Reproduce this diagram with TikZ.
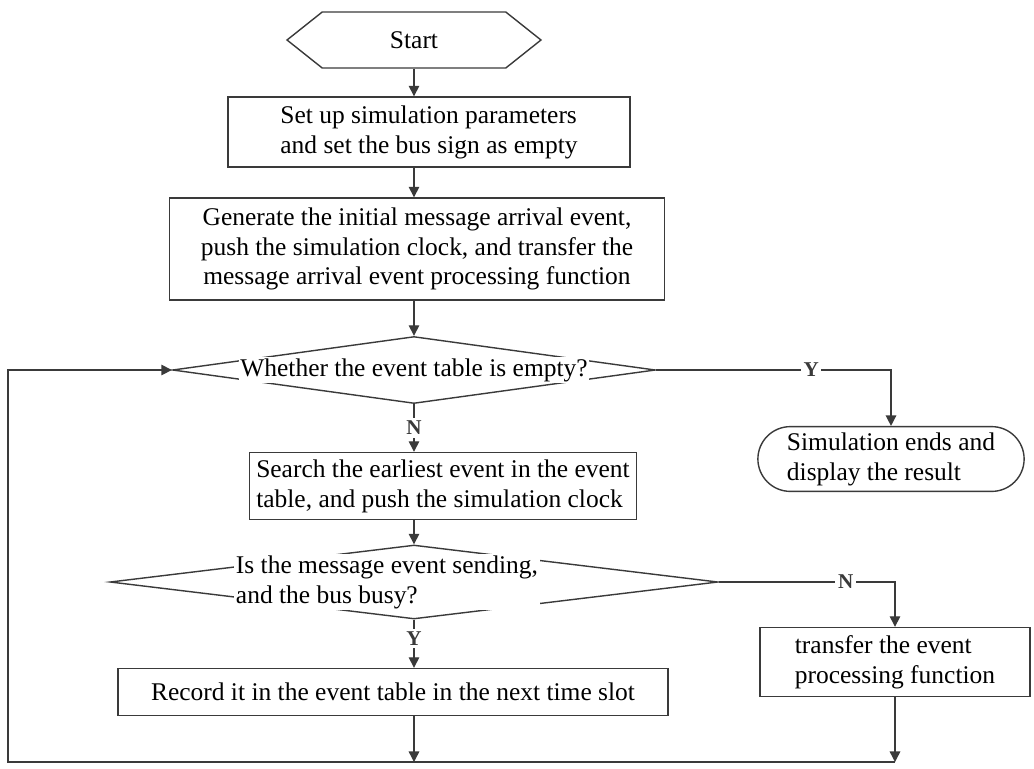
\documentclass[tikz,border=0pt]{standalone}
\usepackage{fontspec}
\setmainfont{Liberation Serif}
\usetikzlibrary{shapes.geometric, shapes.misc, shapes.symbols, arrows.meta, positioning}
\definecolor{LineGray}{HTML}{3A3A3A}

\begin{document}
\begin{tikzpicture}[x=0.02cm, y=-0.02cm,
  every node/.style={font=\fontsize{14.5}{17}\selectfont},
  startbox/.style={signal, signal to=east and west, signal pointer angle=77,
    draw=LineGray, thick, minimum width=5.08cm, minimum height=1.12cm},
  procbox/.style={rectangle, draw=LineGray, thick, inner sep=4pt},
  endbox/.style={rounded rectangle, draw=LineGray, thick, align=left},
  decision/.style={diamond, draw=LineGray, thick, inner sep=0pt},
  qtext/.style={fill=white, inner sep=1pt},
  yn/.style={fill=white, font=\fontsize{12}{14}\selectfont\bfseries, inner sep=1.5pt},
  line/.style={-{Triangle[length=6pt,width=6pt]}, thick, color=LineGray}
]
\useasboundingbox (0,0) rectangle (1034,768);

\node[startbox] (start) at (414,40) {Start};
\node[procbox, minimum width=8.04cm, minimum height=1.4cm, align=left] (setup) at (429,132)
  {Set up simulation parameters\\and set the bus sign as empty};
\node[procbox, minimum width=9.9cm, minimum height=2.04cm, align=center] (init) at (417,249)
  {Generate the initial message arrival event,\\push the simulation clock, and transfer the\\message arrival event processing function};
\node[decision, minimum width=9.66cm, minimum height=1.34cm,
  label={[qtext]center:Whether the event table is empty?}] (empty) at (414,370) {};
\node[endbox, minimum width=5.56cm, minimum height=1.24cm] (finish) at (891,459)
  {Simulation ends and\\display the result};
\node[procbox, minimum width=7cm, minimum height=1.26cm, align=left] (search) at (443,486)
  {Search the earliest event in the event\\table, and push the simulation clock};
\node[decision, minimum width=12.16cm, minimum height=1.48cm,
  label={[qtext, align=left, xshift=-0.54cm]center:Is the message event sending,\\and the bus busy?}] (busy) at (414,582) {};
\node[procbox, minimum width=5.4cm, minimum height=1.38cm, align=left] (handle) at (895,662)
  {transfer the event\\processing function};
\node[procbox, minimum width=11cm, minimum height=0.94cm] (record) at (393,692)
  {Record it in the event table in the next time slot};

\coordinate (jl) at (414,762);
\coordinate (jr) at (handle.south |- jl);
\coordinate (corner) at (8,762);

\draw[line] (start.south) -- (start.south |- setup.north);
\draw[line] (start.south |- setup.south) -- (start.south |- init.north);
\draw[line] (empty.north |- init.south) -- (empty.north);
\draw[line] (empty.east) -| node[yn, pos=0.33] {Y} (finish.north);
\draw[line] (empty.south) -- node[yn] {N} (empty.south |- search.north);
\draw[line] (busy.north |- search.south) -- (busy.north);
\draw[line] (busy.east) -| node[yn, pos=0.36] {N} (handle.north);
\draw[line] (busy.south) -- node[yn, pos=0.4] {Y} (busy.south |- record.north);
\draw[line] (jl |- record.south) -- (jl);
\draw[line] (handle.south) -- (jr);
\draw[line] (jr) -- (corner) |- (empty.west);
\end{tikzpicture}
\end{document}
